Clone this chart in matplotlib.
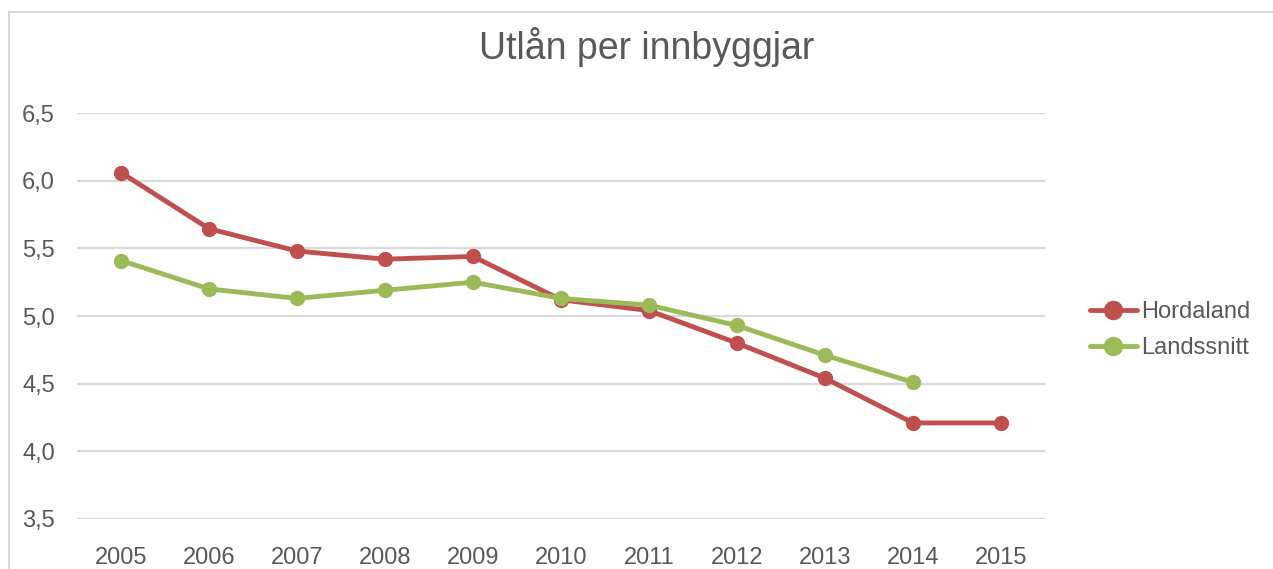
import matplotlib.pyplot as plt
from matplotlib.patches import Rectangle

plt.rcParams['font.family'] = ['Liberation Sans', 'DejaVu Sans']

years = ['2005', '2006', '2007', '2008', '2009', '2010', '2011', '2012', '2013', '2014', '2015']
hordaland = [6.06, 5.645, 5.48, 5.42, 5.44, 5.12, 5.04, 4.80, 4.54, 4.21, 4.21]
landssnitt = [5.41, 5.20, 5.13, 5.19, 5.25, 5.13, 5.08, 4.93, 4.71, 4.51]
yticks = [3.5, 4.0, 4.5, 5.0, 5.5, 6.0, 6.5]
ytick_labels = ['3,5', '4,0', '4,5', '5,0', '5,5', '6,0', '6,5']

text_col = '#595959'
grid_col = '#D9D9D9'

fig = plt.figure(figsize=(12.73, 5.69), dpi=100)
# chart border (cut off right and bottom like the original)
fig.patches.append(Rectangle((9 / 1273, -0.1), 1.2, 1 - 12 / 569 + 0.1,
                             transform=fig.transFigure, fill=False,
                             edgecolor=grid_col, linewidth=1.5, zorder=0))

ax = fig.add_axes([77 / 1273, 50 / 569, (1045 - 77) / 1273, (519 - 113) / 569])
x = list(range(len(years)))
ax.plot(x, hordaland, color='#C0504D', lw=3.5, marker='o', ms=10, label='Hordaland',
        solid_capstyle='round', zorder=3)
ax.plot(x[:len(landssnitt)], landssnitt, color='#9BBB59', lw=3.5, marker='o', ms=10,
        label='Landssnitt', solid_capstyle='round', zorder=3)

ax.set_xlim(-0.5, len(years) - 0.5)
ax.set_ylim(3.5, 6.5)
ax.set_xticks(x)
ax.set_xticklabels(years)
ax.set_yticks(yticks)
ax.set_yticklabels(ytick_labels)
ax.tick_params(axis='both', length=0, labelsize=17, colors=text_col)
ax.tick_params(axis='y', pad=16)
ax.tick_params(axis='x', pad=20)
ax.grid(axis='y', color=grid_col, lw=1.6)
ax.set_axisbelow(True)
for s in ax.spines.values():
    s.set_visible(False)

fig.text(647 / 1273, 1 - 47 / 569, 'Utlån per innbyggjar', ha='center', va='center',
         fontsize=27, color=text_col)

leg = ax.legend(loc='center left', bbox_to_anchor=(1073 / 1273, 1 - 330 / 569),
                bbox_transform=fig.transFigure, frameon=False, fontsize=17,
                handlelength=2.0, handletextpad=0.2, labelspacing=0.6, markerscale=1.3,
                borderpad=0.2)
for t in leg.get_texts():
    t.set_color(text_col)

fig.savefig('out.png', dpi=100)
